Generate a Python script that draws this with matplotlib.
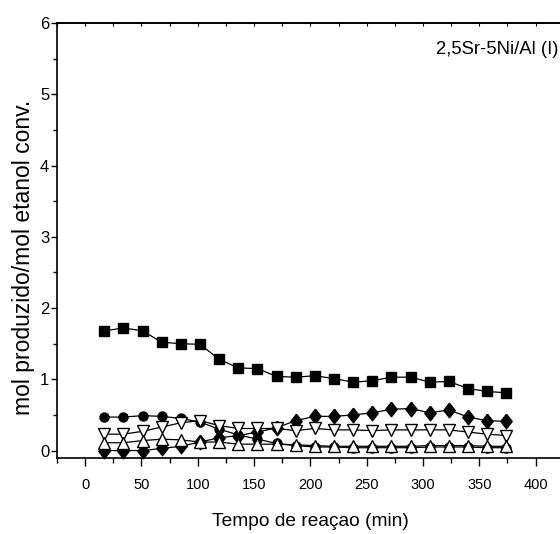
import matplotlib.pyplot as plt
from matplotlib.ticker import MultipleLocator

# reaction time (min)
tempo = [17, 34, 51, 68, 85, 102, 119, 136, 153, 170, 187,
         204, 221, 238, 255, 272, 289, 306, 323, 340, 357, 374]

quadrados = [1.68, 1.72, 1.68, 1.52, 1.50, 1.49, 1.28, 1.16, 1.15, 1.04, 1.03,
             1.05, 1.01, 0.96, 0.98, 1.03, 1.03, 0.96, 0.97, 0.87, 0.83, 0.81]
circulos = [0.47, 0.47, 0.49, 0.48, 0.45, 0.40, 0.30, 0.22, 0.16, 0.10, 0.07,
            0.05, 0.05, 0.04, 0.04, 0.04, 0.04, 0.05, 0.05, 0.05, 0.04, 0.04]
losangos = [0.0, 0.0, 0.0, 0.03, 0.06, 0.12, 0.18, 0.21, 0.26, 0.32, 0.42,
            0.48, 0.48, 0.50, 0.53, 0.58, 0.59, 0.53, 0.57, 0.47, 0.42, 0.41]
tri_baixo = [0.23, 0.23, 0.27, 0.33, 0.39, 0.42, 0.35, 0.31, 0.31, 0.31, 0.28,
             0.31, 0.29, 0.29, 0.28, 0.29, 0.29, 0.29, 0.29, 0.26, 0.23, 0.21]
tri_cima = [0.11, 0.11, 0.14, 0.16, 0.15, 0.12, 0.12, 0.09, 0.09, 0.09, 0.08,
            0.07, 0.06, 0.06, 0.06, 0.06, 0.06, 0.07, 0.07, 0.07, 0.06, 0.06]

fonte = ['Liberation Sans', 'DejaVu Sans']
losango = [(0, 1), (0.78, 0), (0, -1), (-0.78, 0), (0, 1)]

fig = plt.figure(figsize=(5.6, 5.34), dpi=100)
ax = fig.add_axes([0.1018, 0.1429, 0.905, 0.814])

kw = dict(color='black', linewidth=0.9, markeredgecolor='black', clip_on=False)
ax.plot(tempo, quadrados, marker='s', markersize=6.5, markerfacecolor='black', **kw)
ax.plot(tempo, losangos, marker=losango, markersize=10.5, markerfacecolor='black', **kw)
ax.plot(tempo, circulos, marker='o', markersize=6.5, markerfacecolor='black', **kw)
ax.plot(tempo, tri_baixo, marker='v', markersize=8, markerfacecolor='white', **kw)
ax.plot(tempo, tri_cima, marker='^', markersize=8, markerfacecolor='white', **kw)

ax.set_xlim(-25, 425)
ax.set_ylim(-0.1, 6)

ax.xaxis.set_major_locator(MultipleLocator(50))
ax.xaxis.set_minor_locator(MultipleLocator(25))
ax.yaxis.set_major_locator(MultipleLocator(1))
ax.yaxis.set_minor_locator(MultipleLocator(0.5))

ax.tick_params(axis='x', which='major', direction='out', length=5.5, width=1, pad=9, labelsize=10.5)
ax.tick_params(axis='x', which='minor', direction='out', length=3.5, width=1)
ax.tick_params(axis='x', which='both', top=False)
ax.tick_params(axis='y', which='major', direction='out', length=4, width=1, pad=1.5, labelsize=12)
ax.tick_params(axis='y', which='minor', direction='out', length=3, width=1)
ax.tick_params(axis='y', which='both', right=False)

for lbl in ax.get_xticklabels() + ax.get_yticklabels():
    lbl.set_family(fonte)

# short inward ticks on the top spine
sec = ax.secondary_xaxis('top')
sec.xaxis.set_major_locator(MultipleLocator(25))
sec.tick_params(direction='in', length=2.5, width=0.8, labeltop=False)

for s in ax.spines.values():
    s.set_linewidth(1.2)
sec.spines['top'].set_linewidth(1.2)

ax.set_xlabel('Tempo de reaçao (min)', fontsize=13.8, family=fonte, labelpad=15)
ax.set_ylabel('mol produzido/mol etanol conv.', fontsize=16.5, family=fonte)
ax.yaxis.set_label_coords(-0.043, 0.46)
ax.text(558 / 560, 1 - 50 / 534, '2,5Sr-5Ni/Al (I)', transform=fig.transFigure,
        fontsize=13.3, family=fonte, va='center', ha='right')

fig.savefig('out.png', dpi=100)
